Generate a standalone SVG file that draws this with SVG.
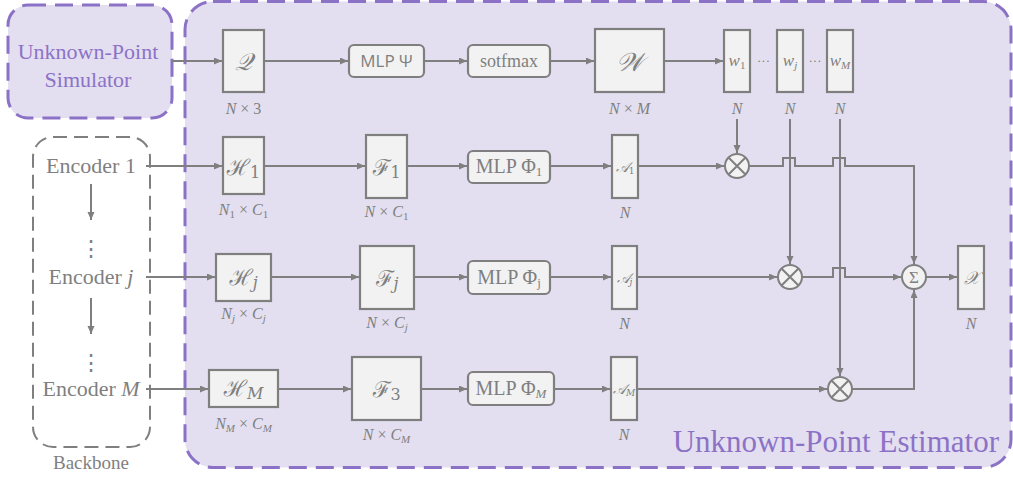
<svg xmlns="http://www.w3.org/2000/svg" width="1013" height="478" viewBox="0 0 1013 478">
<defs>
<marker id="ah" markerWidth="9" markerHeight="8" refX="8" refY="3.5" orient="auto" markerUnits="userSpaceOnUse">
<path d="M0,0 L8,3.5 L0,7 z" fill="#7f7f7f"/>
</marker>
<style>
.box{fill:#f2f2f2;stroke:#7f7f7f;stroke-width:2.2}
.circ{fill:#f2f2f2;stroke:#7f7f7f;stroke-width:2}
.ln{fill:none;stroke:#7f7f7f;stroke-width:2}
.ar{fill:none;stroke:#7f7f7f;stroke-width:2;marker-end:url(#ah)}
.serif{font-family:"Liberation Serif","DejaVu Serif",serif;fill:#7f7f7f;text-anchor:middle}
.sans{font-family:"Open Sans","Liberation Sans",sans-serif;fill:#7f7f7f;text-anchor:middle}
.math{font-family:"DejaVu Serif","Noto Sans",serif;fill:#7f7f7f;text-anchor:middle}
.dim{font-family:"Liberation Serif","DejaVu Serif",serif;fill:#7f7f7f;text-anchor:middle;font-size:16px}
.it{font-style:italic}
.purple{font-family:"Liberation Serif","DejaVu Serif",serif;fill:#8c72c6}
</style>
</defs>

<g id="estimator">
<rect x="185" y="1.5" width="826" height="466" rx="28" fill="#e3dff0" stroke="#8c72c6" stroke-width="3" stroke-dasharray="18 9"/>
<text class="purple" x="999" y="452" font-size="31" text-anchor="end">Unknown-Point Estimator</text>
</g>

<g id="simulator">
<rect x="8" y="5" width="164" height="113" rx="20" fill="#e3dff0" stroke="#8c72c6" stroke-width="3" stroke-dasharray="18 9"/>
<text class="purple" x="88" y="59" font-size="22" text-anchor="middle">Unknown-Point</text>
<text class="purple" x="88" y="87" font-size="22" text-anchor="middle">Simulator</text>
</g>

<g id="backbone">
<rect x="33" y="137" width="117" height="310" rx="20" fill="none" stroke="#7f7f7f" stroke-width="2" stroke-dasharray="14 7"/>
<text class="serif" x="91" y="469" font-size="19">Backbone</text>
</g>
<g id="encoder1"><text class="serif" x="91" y="173" font-size="22">Encoder 1</text></g>
<g id="encoderj"><text class="serif" x="91" y="284" font-size="22">Encoder <tspan class="it">j</tspan></text></g>
<g id="encoderM"><text class="serif" x="91" y="396" font-size="22">Encoder <tspan class="it">M</tspan></text></g>
<g id="vdots1"><text class="serif" x="91" y="256" font-size="22">⋮</text></g>
<g id="vdots2"><text class="serif" x="91" y="370" font-size="22">⋮</text></g>

<g id="Q">
<rect class="box" x="223" y="30" width="41" height="62"/>
<text class="math it" x="243.5" y="70" font-size="24">𝒬</text>
<text class="dim" x="243.5" y="114"><tspan class="it">N</tspan> × 3</text>
</g>
<g id="mlpPsi">
<rect class="box" x="349" y="45" width="75" height="32" rx="5"/>
<text class="sans" x="386.5" y="67" font-size="17">MLP Ψ</text>
</g>
<g id="softmax">
<rect class="box" x="468" y="45" width="82" height="32" rx="5"/>
<text class="serif" x="509" y="67" font-size="18">sotfmax</text>
</g>
<g id="W">
<rect class="box" x="595" y="29" width="69" height="63"/>
<text class="math it" x="629.5" y="71" font-size="26">𝒲</text>
<text class="dim" x="629.5" y="114"><tspan class="it">N</tspan> × <tspan class="it">M</tspan></text>
</g>
<g id="w1">
<rect class="box" x="724" y="30" width="26" height="62"/>
<text class="serif" x="737" y="66" font-size="17"><tspan class="it">w</tspan><tspan font-size="11" dy="3">1</tspan></text>
<text class="dim it" x="737" y="114">N</text>
</g>
<g id="wj">
<rect class="box" x="777" y="30" width="26" height="62"/>
<text class="serif" x="790" y="66" font-size="17"><tspan class="it">w</tspan><tspan class="it" font-size="11" dy="3">j</tspan></text>
<text class="dim it" x="790" y="114">N</text>
</g>
<g id="wM">
<rect class="box" x="827" y="30" width="26" height="62"/>
<text class="serif" x="840" y="66" font-size="17"><tspan class="it">w</tspan><tspan class="it" font-size="11" dy="3">M</tspan></text>
<text class="dim it" x="840" y="114">N</text>
</g>
<g id="hdots">
<text class="serif" x="763.5" y="65" font-size="13">···</text>
<text class="serif" x="815" y="65" font-size="13">···</text>
</g>

<g id="H1">
<rect class="box" x="223" y="137" width="41" height="57"/>
<text class="math" x="243.5" y="175" font-size="22"><tspan class="it">ℋ</tspan><tspan font-size="16" dy="3">1</tspan></text>
<text class="dim" x="243.5" y="215"><tspan class="it">N</tspan><tspan font-size="11" dy="3">1</tspan><tspan dy="-3"> × </tspan><tspan class="it">C</tspan><tspan font-size="11" dy="3">1</tspan></text>
</g>
<g id="F1">
<rect class="box" x="366" y="135" width="41" height="63"/>
<text class="math" x="386.5" y="175" font-size="22"><tspan class="it">ℱ</tspan><tspan font-size="16" dy="3">1</tspan></text>
<text class="dim" x="386.5" y="217"><tspan class="it">N</tspan> × <tspan class="it">C</tspan><tspan font-size="11" dy="3">1</tspan></text>
</g>
<g id="Phi1">
<rect class="box" x="468" y="151" width="82" height="32" rx="5"/>
<text class="serif" x="509" y="173" font-size="20">MLP Φ<tspan font-size="13" dy="3">1</tspan></text>
</g>
<g id="A1">
<rect class="box" x="612" y="135" width="26" height="63"/>
<text class="math" x="625" y="172" font-size="14"><tspan class="it">𝒜</tspan><tspan font-size="9" dy="2">1</tspan></text>
<text class="dim it" x="625" y="218">N</text>
</g>
<g id="mul1">
<circle class="circ" cx="737" cy="166" r="12"/>
<path class="ln" d="M728.5,157.5 L745.5,174.5 M745.5,157.5 L728.5,174.5"/>
</g>

<g id="Hj">
<rect class="box" x="216" y="254" width="55" height="47"/>
<text class="math" x="243.5" y="285" font-size="22"><tspan class="it">ℋ</tspan><tspan class="it" font-size="16" dy="3">j</tspan></text>
<text class="dim" x="243.5" y="319"><tspan class="it">N</tspan><tspan class="it" font-size="11" dy="3">j</tspan><tspan dy="-3"> × </tspan><tspan class="it">C</tspan><tspan class="it" font-size="11" dy="3">j</tspan></text>
</g>
<g id="Fj">
<rect class="box" x="360" y="246" width="54" height="63"/>
<text class="math" x="387" y="286" font-size="22"><tspan class="it">ℱ</tspan><tspan class="it" font-size="16" dy="3">j</tspan></text>
<text class="dim" x="387" y="328"><tspan class="it">N</tspan> × <tspan class="it">C</tspan><tspan class="it" font-size="11" dy="3">j</tspan></text>
</g>
<g id="Phij">
<rect class="box" x="468" y="261" width="82" height="33" rx="5"/>
<text class="serif" x="509" y="284" font-size="20">MLP Φ<tspan font-size="13" dy="3">j</tspan></text>
</g>
<g id="Aj">
<rect class="box" x="612" y="246" width="25" height="63"/>
<text class="math" x="624.5" y="283" font-size="14"><tspan class="it">𝒜</tspan><tspan class="it" font-size="9" dy="2">j</tspan></text>
<text class="dim it" x="624.5" y="329">N</text>
</g>
<g id="mulj">
<circle class="circ" cx="790" cy="277" r="12"/>
<path class="ln" d="M781.5,268.5 L798.5,285.5 M798.5,268.5 L781.5,285.5"/>
</g>
<g id="sum">
<circle class="circ" cx="914" cy="277" r="12"/>
<text class="serif" x="914" y="283" font-size="17">Σ</text>
</g>
<g id="X">
<rect class="box" x="958" y="246" width="26" height="63"/>
<text class="math it" x="971" y="284" font-size="18">𝒳</text>
<text class="dim it" x="971" y="329">N</text>
</g>

<g id="HM">
<rect class="box" x="209" y="370" width="69" height="37"/>
<text class="math" x="243.5" y="396" font-size="22"><tspan class="it">ℋ</tspan><tspan class="it" font-size="16" dy="3">M</tspan></text>
<text class="dim" x="243.5" y="429"><tspan class="it">N</tspan><tspan class="it" font-size="11" dy="3">M</tspan><tspan dy="-3"> × </tspan><tspan class="it">C</tspan><tspan class="it" font-size="11" dy="3">M</tspan></text>
</g>
<g id="F3">
<rect class="box" x="352" y="357" width="69" height="63"/>
<text class="math" x="386.5" y="397" font-size="22"><tspan class="it">ℱ</tspan><tspan font-size="16" dy="3">3</tspan></text>
<text class="dim" x="386.5" y="440"><tspan class="it">N</tspan> × <tspan class="it">C</tspan><tspan class="it" font-size="11" dy="3">M</tspan></text>
</g>
<g id="PhiM">
<rect class="box" x="468" y="372" width="86" height="33" rx="5"/>
<text class="serif" x="511" y="395" font-size="20">MLP Φ<tspan class="it" font-size="13" dy="3">M</tspan></text>
</g>
<g id="AM">
<rect class="box" x="611" y="357" width="26" height="63"/>
<text class="math" x="624" y="394" font-size="14"><tspan class="it">𝒜</tspan><tspan class="it" font-size="9" dy="2">M</tspan></text>
<text class="dim it" x="624" y="440">N</text>
</g>
<g id="mulM">
<circle class="circ" cx="840" cy="389" r="12"/>
<path class="ln" d="M831.5,380.5 L848.5,397.5 M848.5,380.5 L831.5,397.5"/>
</g>

<g id="connectors">
<path class="ar" d="M172,61 H222"/>
<path class="ar" d="M264,61 H348"/>
<path class="ar" d="M424,61 H467"/>
<path class="ar" d="M550,61 H594"/>
<path class="ar" d="M664,61 H723"/>
<path class="ar" d="M91,184 V220"/>
<path class="ar" d="M91,298 V334"/>
<path class="ar" d="M146,166 H222"/>
<path class="ar" d="M264,166 H365"/>
<path class="ar" d="M407,166 H467"/>
<path class="ar" d="M550,166 H611"/>
<path class="ar" d="M638,166 H724"/>
<path class="ar" d="M146,277 H215"/>
<path class="ar" d="M271,277 H359"/>
<path class="ar" d="M414,277 H467"/>
<path class="ar" d="M550,277 H611"/>
<path class="ar" d="M637,277 H777"/>
<path class="ar" d="M146,389 H208"/>
<path class="ar" d="M278,389 H351"/>
<path class="ar" d="M421,389 H467"/>
<path class="ar" d="M554,389 H610"/>
<path class="ar" d="M637,389 H827"/>
<path class="ar" d="M737,119 V153"/>
<path class="ar" d="M790,119 V264"/>
<path class="ar" d="M840,119 V376"/>
<path class="ar" d="M749,166 H783 V158 H795 V166 H833 V158 H845 V166 H914 V264"/>
<path class="ar" d="M802,277 H833 V268 H845 V277 H901"/>
<path class="ar" d="M852,389 H914 V290"/>
<path class="ar" d="M926,277 H957"/>
</g>
</svg>
